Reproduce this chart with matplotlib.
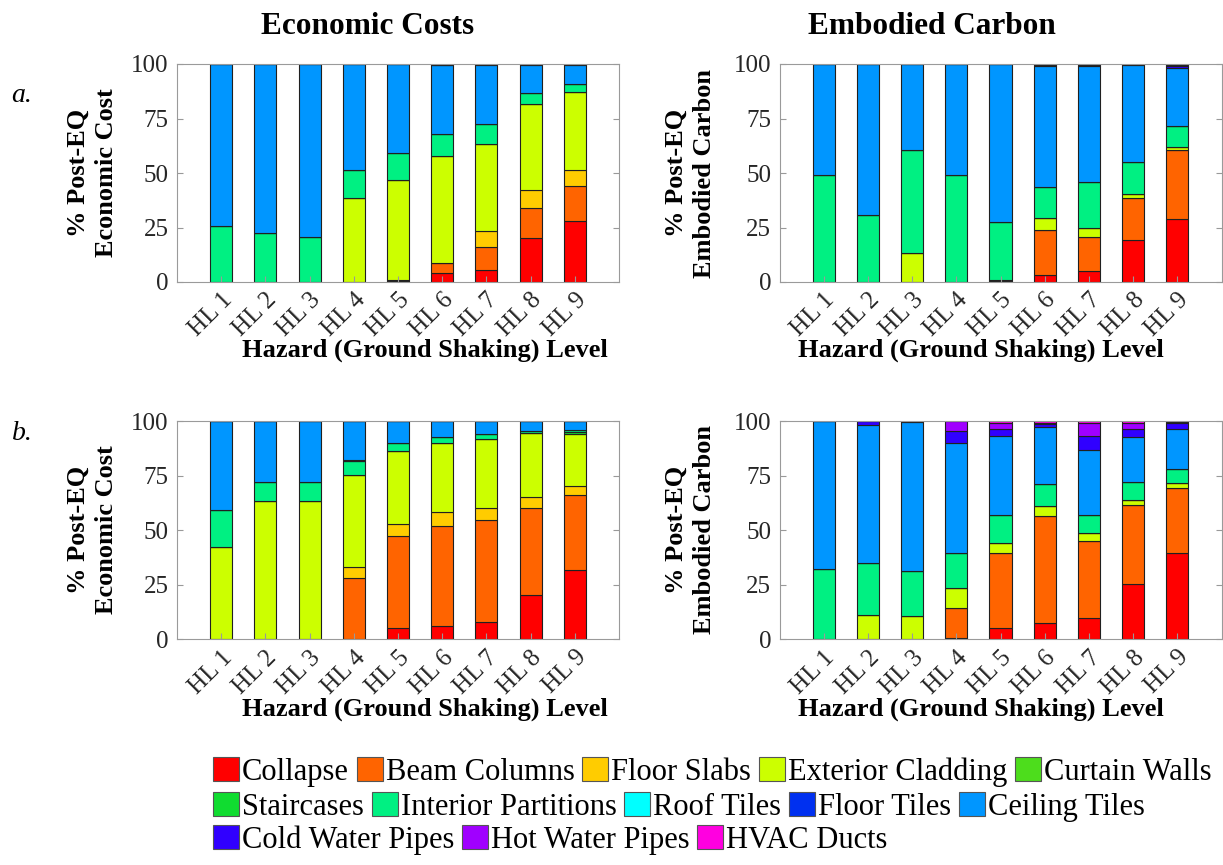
import matplotlib.pyplot as plt
import numpy as np
from matplotlib.patches import Patch

plt.rcParams['font.family'] = ['Liberation Serif', 'DejaVu Serif']

# Data
levels = ['HL 1', 'HL 2', 'HL 3', 'HL 4', 'HL 5', 'HL 6', 'HL 7', 'HL 8', 'HL 9']
components = ['Collapse', 'Beam Columns', 'Floor Slabs', 'Exterior Cladding', 'Curtain Walls',
              'Staircases', 'Interior Partitions', 'Roof Tiles', 'Floor Tiles', 'Ceiling Tiles',
              'Cold Water Pipes', 'Hot Water Pipes', 'HVAC Ducts']
colors = ['#ff0000', '#ff6400', '#ffcc00', '#ccff00', '#4ddd1c',
          '#10dc30', '#00f082', '#00ffff', '#0030f0', '#0096ff',
          '#3000ff', '#a000ff', '#ff00e0']

# segment sizes (% of total), one row per component, one column per hazard level
econ_a = [
    [0, 0, 0, 0, 0.5, 4.1, 5.4, 20.2, 28.1],
    [0, 0, 0, 0, 0.6, 4.6, 10.5, 13.8, 16.1],
    [0, 0, 0, 0, 0, 0, 7.6, 8.4, 7.2],
    [0, 0, 0, 38.4, 45.9, 48.9, 40.0, 39.4, 35.9],
    [0, 0, 0, 0, 0, 0, 0, 0, 0],
    [0, 0, 0, 0, 0, 0, 0, 0, 0],
    [25.5, 22.3, 20.5, 13.1, 12.2, 10.4, 9.1, 4.9, 3.4],
    [0, 0, 0, 0, 0, 0, 0, 0, 0],
    [0, 0, 0, 0, 0, 0, 0, 0, 0],
    [74.5, 77.7, 79.5, 48.5, 40.8, 31.7, 26.9, 12.9, 8.8],
    [0, 0, 0, 0, 0, 0, 0.3, 0.2, 0.3],
    [0, 0, 0, 0, 0, 0.3, 0.2, 0.2, 0.2],
    [0, 0, 0, 0, 0, 0, 0, 0, 0],
]
carbon_a = [
    [0, 0, 0, 0, 0.3, 3.4, 4.9, 19.4, 29.0],
    [0, 0, 0, 0, 0.5, 20.6, 15.7, 19.1, 31.4],
    [0, 0, 0, 0, 0, 0, 0, 0, 0],
    [0, 0, 13.3, 0, 0, 5.4, 4.4, 2.0, 1.4],
    [0, 0, 0, 0, 0, 0, 0, 0, 0],
    [0, 0, 0, 0, 0, 0, 0, 0, 0],
    [49.2, 30.6, 47.1, 49.2, 26.7, 14.0, 21.0, 14.4, 9.6],
    [0, 0, 0, 0, 0, 0, 0, 0, 0],
    [0, 0, 0, 0, 0, 0, 0, 0, 0],
    [50.8, 69.4, 39.6, 50.8, 72.5, 55.9, 53.3, 44.7, 26.8],
    [0, 0, 0, 0, 0, 0.4, 0.4, 0.2, 1.0],
    [0, 0, 0, 0, 0, 0.3, 0.3, 0.2, 0.5],
    [0, 0, 0, 0, 0, 0, 0, 0, 0.3],
]
econ_b = [
    [0, 0, 0, 0.3, 5.0, 6.3, 7.8, 20.3, 31.8],
    [0, 0.3, 0.3, 27.6, 42.5, 45.7, 46.9, 40.0, 34.6],
    [0, 0, 0, 5.4, 5.6, 6.2, 5.6, 5.0, 3.8],
    [42.4, 63.2, 63.2, 42.0, 33.3, 31.9, 31.6, 29.4, 24.2],
    [0, 0, 0, 0, 0, 0, 0, 0, 0],
    [0, 0, 0, 0, 0, 0, 0, 0, 0.8],
    [17.1, 8.7, 8.7, 6.4, 3.7, 2.7, 2.1, 0.9, 0.8],
    [0, 0, 0, 0, 0, 0, 0, 0, 0],
    [0, 0, 0, 0.5, 0, 0, 0, 0, 0],
    [40.5, 27.8, 27.8, 17.8, 9.9, 7.2, 6.0, 4.4, 4.0],
    [0, 0, 0, 0, 0, 0, 0, 0, 0],
    [0, 0, 0, 0, 0, 0, 0, 0, 0],
    [0, 0, 0, 0, 0, 0, 0, 0, 0],
]
carbon_b = [
    [0, 0, 0, 0.4, 5.0, 7.6, 9.6, 25.2, 39.7],
    [0, 0, 0, 14.1, 34.7, 49.0, 35.4, 36.6, 29.9],
    [0, 0, 0, 0, 0, 0, 0, 0, 0],
    [0, 11.1, 10.8, 9.2, 4.6, 4.4, 3.9, 2.3, 2.2],
    [0, 0, 0, 0, 0, 0, 0, 0, 0],
    [0, 0, 0, 0, 0, 0, 0, 0, 0],
    [32.2, 23.7, 20.5, 16.0, 12.6, 10.1, 8.0, 8.1, 6.5],
    [0, 0, 0, 0, 0, 0, 0, 0, 0],
    [0, 0, 0, 0, 0, 0, 0, 0, 0],
    [67.8, 63.4, 68.4, 50.4, 36.2, 26.3, 30.1, 20.6, 18.3],
    [0, 1.8, 0.3, 5.5, 3.3, 1.2, 6.1, 3.8, 2.6],
    [0, 0, 0, 4.4, 3.0, 0.8, 5.9, 2.6, 0.5],
    [0, 0, 0, 0, 0.6, 0.6, 1.0, 0.8, 0.3],
]

W, H = 1223, 865
fig = plt.figure(figsize=(W / 100, H / 100), dpi=100)


def px(x, y):
    return x / W, 1 - y / H


def stacked(rect, data):
    ax = fig.add_axes(rect)
    x = np.arange(1, len(levels) + 1)
    bottom = np.zeros(len(levels))
    for vals, c in zip(data, colors):
        vals = np.array(vals, dtype=float)
        ax.bar(x, vals, 0.5, bottom=bottom, color=c, edgecolor='#202020', linewidth=0.8)
        bottom += vals
    ax.set_xlim(0, 10)
    ax.set_ylim(0, 100)
    ax.set_yticks([0, 25, 50, 75, 100])
    ax.set_xticks(x)
    ax.set_xticklabels(levels, rotation=45, ha='right', va='top', rotation_mode='anchor')
    ax.tick_params(direction='in', length=4, color='#999999', labelsize=18,
                   labelcolor='#262626', right=True)
    ax.tick_params(axis='x', pad=5)
    ax.tick_params(axis='y', pad=6)
    for s in ax.spines.values():
        s.set_color('#9a9a9a')
        s.set_linewidth(0.8)
    return ax


left_x, right_x, aw = 177 / W, 779.5 / W, 442 / W
top_y, bot_y, ah = 1 - 282 / H, 1 - 639.3 / H, 218 / H

stacked([left_x, top_y, aw, ah], econ_a)
stacked([right_x, top_y, aw, ah], carbon_a)
stacked([left_x, bot_y, aw, ah], econ_b)
stacked([right_x, bot_y, aw, ah], carbon_b)

# titles and labels
fig.text(*px(368, 27), 'Economic Costs', ha='center', va='center', fontsize=22.5, fontweight='bold')
fig.text(*px(932, 27), 'Embodied Carbon', ha='center', va='center', fontsize=22.5, fontweight='bold')
for yc in (350, 709):
    fig.text(*px(425, yc), 'Hazard (Ground Shaking) Level', ha='center', va='center',
             fontsize=19, fontweight='bold')
    fig.text(*px(981, yc), 'Hazard (Ground Shaking) Level', ha='center', va='center',
             fontsize=19, fontweight='bold')
for xc, text in ((92, '% Post-EQ\nEconomic Cost'), (690, '% Post-EQ\nEmbodied Carbon')):
    for yc in (173, 530):
        fig.text(*px(xc, yc), text, rotation=90, ha='center', va='center',
                 fontsize=19, fontweight='bold', linespacing=1.3)
fig.text(*px(22, 95), 'a.', ha='center', va='center', fontsize=20, style='italic')
fig.text(*px(22, 433), 'b.', ha='center', va='center', fontsize=20, style='italic')

# legend in three rows
handles = [Patch(facecolor=c, edgecolor='#555555', linewidth=0.8) for c in colors]
rows = [(0, 5, 772), (5, 10, 807), (10, 13, 840)]
for i0, i1, yc in rows:
    fig.legend(handles[i0:i1], components[i0:i1], loc='center left',
               bbox_to_anchor=px(213, yc), ncol=i1 - i0, frameon=False,
               fontsize=22, handlelength=0.85, handleheight=0.85,
               handletextpad=0.1, columnspacing=0.25, borderpad=0, borderaxespad=0)

plt.savefig('out.png', dpi=100)
